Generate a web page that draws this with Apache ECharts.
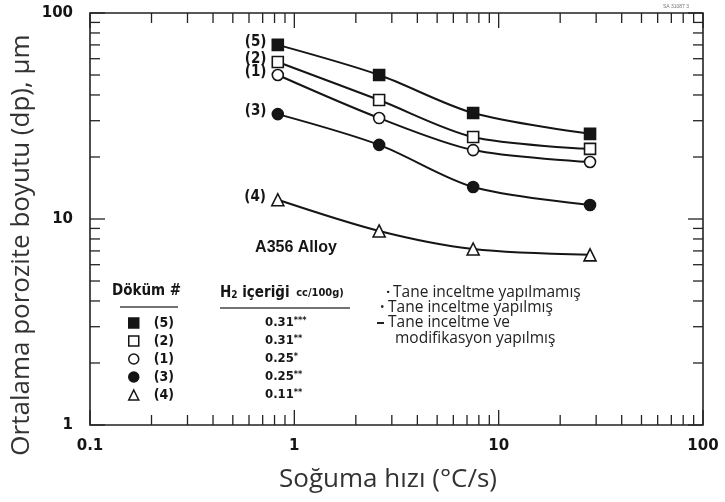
<!DOCTYPE html>
<html>
<head>
<meta charset="utf-8">
<script src="https://cdn.jsdelivr.net/npm/echarts@6/dist/echarts.min.js"></script>
<style>
html, body { margin: 0; padding: 0; background: #fff; }
#chart { width: 725px; height: 502px; }
</style>
</head>
<body>
<div id="chart"></div>
<script>
// cooling rate (x) and mean pore size (y) for each casting
var coolingRate = [0.83, 2.6, 7.5, 28];
var castNames = ['(5)', '(2)', '(1)', '(3)', '(4)'];
var cast5 = [70, 50, 32.7, 25.9];
var cast2 = [57.8, 37.8, 25, 21.9];
var cast1 = [50, 30.9, 21.6, 18.9];
var cast3 = [32.3, 22.9, 14.3, 11.7];
var cast4 = [12.4, 8.75, 7.15, 6.7];
var castValues = [cast5, cast2, cast1, cast3, cast4];
var h2Values = ['0.31', '0.31', '0.25', '0.25', '0.11'];
var h2Stars = ['***', '**', '*', '**', '**'];
var xDecades = [0.1, 1, 10, 100];
var yDecades = [1, 10, 100];
var minorSteps = [2, 3, 4, 5, 6, 7, 8, 9];

var ink = '#151515';
var narrow = "'Liberation Sans Narrow', 'DejaVu Sans Condensed', sans-serif";
var marks = [
    { symbol: 'rect', fill: ink },
    { symbol: 'rect', fill: '#fff' },
    { symbol: 'circle', fill: '#fff' },
    { symbol: 'circle', fill: ink },
    { symbol: 'triangle', fill: '#fff' }
];

function tickList(decades) {
    var out = [];
    for (var i = 0; i < decades.length - 1; i++) {
        out.push(decades[i]);
        minorSteps.forEach(function (m) { out.push(decades[i] * m); });
    }
    out.push(decades[decades.length - 1]);
    return out;
}
var xTicks = tickList(xDecades);
var yTicks = tickList(yDecades);

function isMajor(v) {
    var l = Math.log10(v);
    return Math.abs(l - Math.round(l)) < 1e-6;
}

// draws inward ticks on both opposite sides of the frame
function tickRenderer(dir) {
    return function (params, api) {
        var cs = params.coordSys;
        var style = { stroke: '#222', lineWidth: 1.3 };
        var v, len, p;
        if (dir === 'x') {
            v = api.value(0);
            len = isMajor(v) ? 15 : 10;
            p = api.coord([v, 1])[0];
            return { type: 'group', children: [
                { type: 'line', shape: { x1: p, y1: cs.y + cs.height, x2: p, y2: cs.y + cs.height - len }, style: style },
                { type: 'line', shape: { x1: p, y1: cs.y, x2: p, y2: cs.y + len }, style: style }
            ] };
        }
        v = api.value(1);
        len = isMajor(v) ? 15 : 10;
        p = api.coord([0.1, v])[1];
        return { type: 'group', children: [
            { type: 'line', shape: { x1: cs.x, y1: p, x2: cs.x + len, y2: p }, style: style },
            { type: 'line', shape: { x1: cs.x + cs.width, y1: p, x2: cs.x + cs.width - len, y2: p }, style: style }
        ] };
    };
}

var series = castValues.map(function (vals, i) {
    var data = vals.map(function (y, j) {
        var item = { value: [coolingRate[j], y] };
        if (j === 0) {
            item.label = {
                show: true, position: 'left', distance: 5, offset: [0, -3],
                formatter: castNames[i], color: ink,
                fontFamily: narrow, fontWeight: 'bold', fontSize: 15
            };
        }
        return item;
    });
    return {
        name: castNames[i],
        type: 'line',
        smooth: 0.3,
        symbol: marks[i].symbol,
        symbolSize: marks[i].symbol === 'triangle' ? 12 : 11,
        itemStyle: { color: marks[i].fill, borderColor: ink, borderWidth: 1.6 },
        lineStyle: { color: ink, width: 2 },
        z: 5,
        data: data
    };
});

series.push({
    type: 'custom', silent: true, clip: false, z: 3,
    renderItem: tickRenderer('x'),
    data: xTicks.map(function (v) { return [v, 1]; })
});
series.push({
    type: 'custom', silent: true, clip: false, z: 3,
    renderItem: tickRenderer('y'),
    data: yTicks.map(function (v) { return [0.1, v]; })
});

var legendRowTop = 316;
var rowGap = 18;
var bodyFont = "15.5px 'Open Sans', sans-serif";
var nameFont = "26px 'Open Sans', sans-serif";
var graphics = [
    { type: 'text', x: 22, y: 245, rotation: Math.PI / 2,
      style: { text: 'Ortalama porozite boyutu (dp), µm', font: nameFont, fill: '#333',
               textAlign: 'center', textVerticalAlign: 'middle' } },
    { type: 'text', x: 388, y: 480,
      style: { text: 'Soğuma hızı (°C/s)', font: nameFont, fill: '#333',
               textAlign: 'center', textVerticalAlign: 'middle' } },
    { type: 'text', x: 296, y: 248,
      style: { text: 'A356 Alloy', font: "bold 16px 'Liberation Sans', sans-serif", fill: ink,
               textAlign: 'center', textVerticalAlign: 'middle' } },
    { type: 'text', x: 676, y: 7,
      style: { text: 'SA 31087 3', font: "5px sans-serif", fill: '#777', textAlign: 'center', textVerticalAlign: 'middle' } },
    { type: 'text', x: 112, y: 291,
      style: { text: 'Döküm #', font: 'bold 15px ' + narrow, fill: ink, textVerticalAlign: 'middle' } },
    { type: 'line', shape: { x1: 120, y1: 307, x2: 178, y2: 307 }, style: { stroke: '#444', lineWidth: 1.5 } },
    { type: 'text', x: 220, y: 293,
      style: { text: '{a|H}{s|2}{a| içeriği}  {b|cc/100g)}', textVerticalAlign: 'middle',
               rich: { a: { font: 'bold 15px ' + narrow, fill: ink },
                       s: { font: 'bold 10px ' + narrow, fill: ink, padding: [5, 0, 0, 0] },
                       b: { font: 'bold 11px ' + narrow, fill: ink } } } },
    { type: 'line', shape: { x1: 220, y1: 308, x2: 350, y2: 308 }, style: { stroke: '#444', lineWidth: 1.5 } },
    { type: 'text', x: 393, y: 293,
      style: { text: 'Tane inceltme yapılmamış', font: bodyFont, fill: '#222', textVerticalAlign: 'middle' } },
    { type: 'text', x: 386, y: 293,
      style: { text: '·', font: "bold 15px 'Open Sans', sans-serif", fill: '#222', textVerticalAlign: 'middle' } },
    { type: 'text', x: 388, y: 308,
      style: { text: 'Tane inceltme yapılmış', font: bodyFont, fill: '#222', textVerticalAlign: 'middle' } },
    { type: 'text', x: 380, y: 308,
      style: { text: '•', font: "12px 'Open Sans', sans-serif", fill: '#222', textVerticalAlign: 'middle' } },
    { type: 'text', x: 388, y: 323,
      style: { text: 'Tane inceltme ve', font: bodyFont, fill: '#222', textVerticalAlign: 'middle' } },
    { type: 'line', shape: { x1: 377, y1: 323, x2: 384, y2: 323 }, style: { stroke: '#222', lineWidth: 2 } },
    { type: 'text', x: 395, y: 339,
      style: { text: 'modifikasyon yapılmış', font: bodyFont, fill: '#222', textVerticalAlign: 'middle' } }
];
h2Values.forEach(function (v, i) {
    graphics.push({
        type: 'text', x: 265, y: legendRowTop + 7 + i * rowGap,
        style: { text: '{v|' + v + '}{s|' + h2Stars[i] + '}', textVerticalAlign: 'middle',
                 rich: { v: { font: 'bold 13px ' + narrow, fill: ink },
                         s: { font: 'bold 9px ' + narrow, fill: ink, padding: [0, 0, 4, 0] } } }
    });
});

var option = {
    animation: false,
    backgroundColor: '#fff',
    grid: { left: 90, right: 22, top: 13, bottom: 77, show: true, borderColor: '#222', borderWidth: 1.6 },
    xAxis: {
        type: 'log', logBase: 10, min: 0.1, max: 100,
        axisLine: { show: false },
        axisTick: { show: false },
        splitLine: { show: false },
        axisLabel: {
            margin: 14, color: ink, fontFamily: 'DejaVu Sans', fontWeight: 'bold', fontSize: 15,
            formatter: function (v) { return String(v); }
        }
    },
    yAxis: {
        type: 'log', logBase: 10, min: 1, max: 100,
        axisLine: { show: false },
        axisTick: { show: false },
        splitLine: { show: false },
        axisLabel: {
            margin: 17, color: ink, fontFamily: 'DejaVu Sans', fontWeight: 'bold', fontSize: 15,
            formatter: function (v) { return String(v); }
        }
    },
    legend: {
        orient: 'vertical', left: 123, top: legendRowTop - 5,
        itemWidth: 10, itemHeight: 10, itemGap: 4, selectedMode: false,
        textStyle: { fontFamily: narrow, fontWeight: 'bold', fontSize: 14, color: ink, lineHeight: 14,
                     padding: [0, 0, 0, 10] },
        data: castNames.map(function (n, i) {
            return { name: n, icon: marks[i].symbol,
                     itemStyle: { color: marks[i].fill, borderColor: ink, borderWidth: 1.5 } };
        })
    },
    graphic: graphics,
    series: series
};

var myChart = echarts.init(document.getElementById('chart'));
myChart.setOption(option);
</script>
</body>
</html>
